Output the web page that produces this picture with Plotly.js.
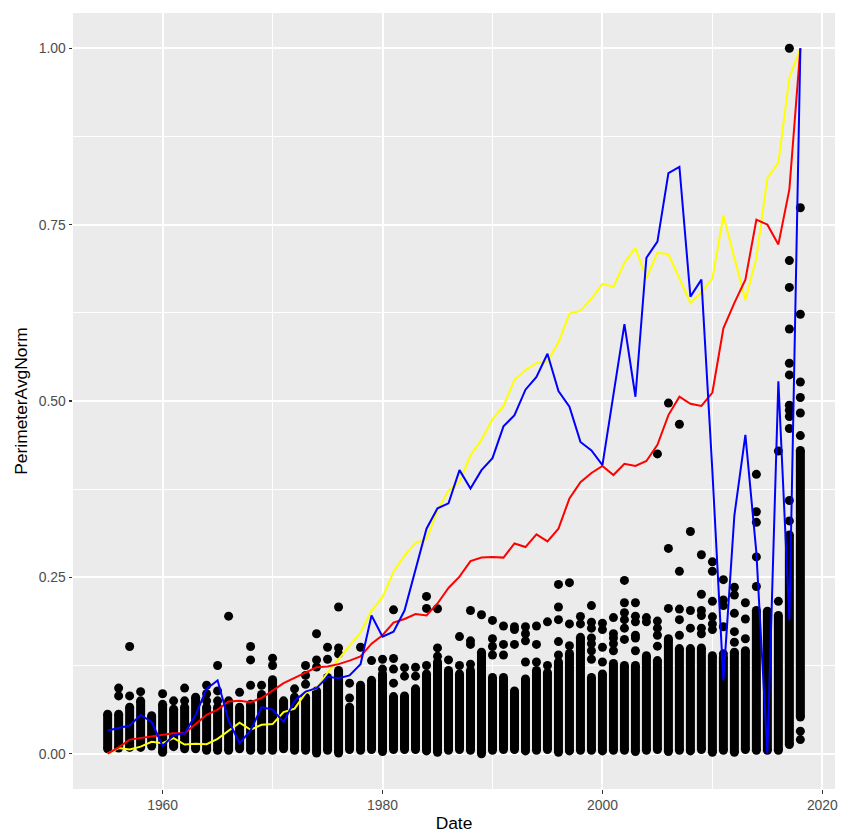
<!DOCTYPE html>
<html>
<head>
<meta charset="utf-8">
<script src="https://cdn.plot.ly/plotly-3.0.1.min.js"></script>
<style>html,body{margin:0;padding:0;background:#fff;}#chart{width:841px;height:834px;}</style>
</head>
<body>
<div id="chart"></div>
<script>
// ---- data ----
var years = [1955,1956,1957,1958,1959,1960,1961,1962,1963,1964,1965,1966,1967,1968,1969,1970,1971,1972,1973,1974,1975,1976,1977,1978,1979,1980,1981,1982,1983,1984,1985,1986,1987,1988,1989,1990,1991,1992,1993,1994,1995,1996,1997,1998,1999,2000,2001,2002,2003,2004,2005,2006,2007,2008,2009,2010,2011,2012,2013,2014,2015,2016,2017,2018];

var blueLine = [0.033,0.036,0.040,0.055,0.045,0.011,0.026,0.029,0.055,0.092,0.104,0.047,0.015,0.033,0.066,0.0625,0.045,0.075,0.088,0.093,0.109,0.107,0.111,0.127,0.196,0.166,0.173,0.203,0.260,0.319,0.348,0.355,0.402,0.376,0.402,0.419,0.464,0.480,0.516,0.534,0.567,0.514,0.492,0.442,0.430,0.409,0.509,0.609,0.506,0.703,0.726,0.823,0.832,0.648,0.672,0.400,0.104,0.338,0.452,0.285,0.000,0.528,0.189,1.000];

var redLine = [0.000,0.009,0.020,0.022,0.024,0.026,0.029,0.029,0.042,0.055,0.0625,0.074,0.075,0.073,0.079,0.089,0.100,0.1075,0.1155,0.1226,0.1236,0.127,0.132,0.138,0.156,0.168,0.186,0.191,0.198,0.196,0.213,0.235,0.251,0.273,0.278,0.279,0.278,0.298,0.293,0.311,0.301,0.319,0.362,0.385,0.398,0.408,0.395,0.411,0.408,0.415,0.438,0.480,0.506,0.496,0.493,0.512,0.603,0.639,0.672,0.757,0.750,0.722,0.800,1.000];

var yellowLine = [0.000,0.008,0.006,0.010,0.017,0.015,0.022,0.013,0.014,0.0135,0.021,0.032,0.044,0.034,0.041,0.042,0.059,0.064,0.086,0.093,0.115,0.134,0.153,0.172,0.203,0.222,0.258,0.281,0.299,0.304,0.345,0.373,0.385,0.423,0.445,0.474,0.493,0.530,0.544,0.554,0.556,0.583,0.624,0.628,0.645,0.666,0.662,0.696,0.717,0.674,0.710,0.708,0.674,0.639,0.654,0.674,0.763,0.705,0.643,0.703,0.816,0.838,0.958,1.000];

// dense column of points per year: lowest and highest point of the packed stack
var stackLow = [0.007,0.008,0.009,0.009,0.011,0.002,0.010,0.007,0.007,0.005,0.005,0.005,0.007,0.005,0.005,0.005,0.007,0.005,0.005,0.001,0.005,0.001,0.006,0.005,0.006,0.003,0.006,0.006,0.006,0.004,0.002,0.005,0.006,0.005,0.000,0.005,0.006,0.006,0.004,0.005,0.006,0.002,0.004,0.005,0.005,0.004,0.005,0.005,0.003,0.005,0.006,0.003,0.005,0.004,0.006,0.002,0.005,0.002,0.006,0.005,0.005,0.005,0.013,0.052];
var stackHigh = [0.056,0.056,0.066,0.075,0.054,0.070,0.063,0.066,0.080,0.066,0.066,0.075,0.066,0.070,0.084,0.105,0.075,0.080,0.080,0.089,0.108,0.118,0.066,0.097,0.104,0.113,0.081,0.082,0.092,0.113,0.130,0.118,0.113,0.118,0.144,0.108,0.108,0.089,0.106,0.118,0.115,0.130,0.142,0.165,0.108,0.113,0.128,0.125,0.125,0.139,0.132,0.163,0.149,0.149,0.150,0.139,0.137,0.144,0.146,0.203,0.202,0.196,0.310,0.430];

// separate points above the stacks
var outlierYear = [1956,1956,1957,1957,1958,1960,1961,1962,1962,1964,1964,1964,1965,1965,1965,1966,1967,1968,1968,1968,1969,1970,1970,1972,1973,1973,1973,1974,1974,1974,1975,1975,1976,1976,1976,1977,1977,1978,1979,1980,1980,1981,1981,1981,1981,1982,1982,1983,1983,1984,1984,1984,1985,1985,1985,1986,1987,1987,1988,1988,1988,1988,1989,1990,1990,1990,1990,1991,1991,1991,1992,1992,1992,1993,1993,1993,1993,1994,1994,1994,1995,1995,1996,1996,1996,1996,1996,1997,1997,1997,1998,1998,1999,1999,1999,1999,1999,1999,1999,2000,2000,2000,2000,2001,2001,2001,2001,2001,2002,2002,2002,2002,2002,2002,2003,2003,2003,2003,2003,2003,2004,2004,2005,2005,2005,2005,2005,2006,2006,2006,2007,2007,2007,2007,2007,2008,2008,2008,2009,2009,2009,2009,2009,2009,2010,2010,2010,2010,2010,2010,2011,2011,2011,2011,2011,2012,2012,2012,2012,2012,2013,2013,2013,2014,2014,2014,2014,2014,2016,2016,2017,2017,2017,2017,2017,2017,2017,2017,2017,2017,2017,2017,2018,2018,2018,2018,2018,2018,2018,2018];
var outlierValue = [0.093,0.082,0.152,0.082,0.088,0.085,0.075,0.093,0.075,0.097,0.085,0.075,0.125,0.089,0.075,0.195,0.087,0.152,0.133,0.097,0.097,0.1355,0.125,0.092,0.125,0.111,0.0985,0.170,0.133,0.123,0.151,0.134,0.208,0.150,0.1415,0.100,0.079,0.151,0.132,0.134,0.120,0.204,0.135,0.120,0.100,0.122,0.110,0.1226,0.110,0.223,0.206,0.125,0.2055,0.150,0.138,0.133,0.166,0.125,0.203,0.160,0.155,0.127,0.197,0.189,0.163,0.152,0.140,0.181,0.155,0.140,0.180,0.176,0.155,0.180,0.170,0.160,0.130,0.181,0.155,0.130,0.187,0.125,0.240,0.208,0.190,0.159,0.140,0.2425,0.184,0.153,0.1946,0.184,0.210,0.1865,0.178,0.164,0.156,0.146,0.134,0.185,0.176,0.151,0.130,0.193,0.170,0.164,0.156,0.146,0.2457,0.214,0.200,0.190,0.178,0.162,0.214,0.195,0.187,0.168,0.164,0.146,0.193,0.187,0.425,0.188,0.178,0.168,0.1525,0.497,0.291,0.206,0.467,0.2585,0.205,0.190,0.168,0.315,0.203,0.178,0.282,0.226,0.203,0.196,0.178,0.170,0.272,0.2585,0.216,0.194,0.184,0.176,0.2467,0.218,0.210,0.180,0.1416,0.236,0.225,0.199,0.173,0.158,0.214,0.191,0.163,0.396,0.343,0.328,0.279,0.237,0.429,0.216,1.000,0.699,0.661,0.602,0.5535,0.537,0.494,0.487,0.478,0.461,0.359,0.330,0.774,0.623,0.527,0.505,0.483,0.451,0.032,0.020];

var xTickVals = [1960,1980,2000,2020];
var yTickVals = [0,0.25,0.5,0.75,1];
var yTickText = ['0.00','0.25','0.50','0.75','1.00'];

// ---- build traces ----
var stackX = [], stackY = [];
for (var i = 0; i < years.length; i++) {
  stackX.push(years[i], years[i], null);
  stackY.push(stackLow[i], stackHigh[i], null);
}
var dotSize = 9;
var traces = [
  {x: stackX, y: stackY, mode: 'lines', line: {color: '#000000', width: dotSize}, hoverinfo: 'skip', showlegend: false},
  {x: years, y: stackLow, mode: 'markers', marker: {color: '#000000', size: dotSize}, showlegend: false},
  {x: years, y: stackHigh, mode: 'markers', marker: {color: '#000000', size: dotSize}, showlegend: false},
  {x: outlierYear, y: outlierValue, mode: 'markers', marker: {color: '#000000', size: dotSize}, showlegend: false},
  {x: years, y: yellowLine, mode: 'lines', line: {color: '#FFFF00', width: 2}, showlegend: false},
  {x: years, y: redLine, mode: 'lines', line: {color: '#FF0000', width: 2}, showlegend: false},
  {x: years, y: blueLine, mode: 'lines', line: {color: '#0000FF', width: 2}, showlegend: false}
];

var tickFont = {family: 'Liberation Sans, Arial, sans-serif', size: 13.9, color: '#4D4D4D'};
var titleFont = {family: 'Liberation Sans, Arial, sans-serif', size: 17.4, color: '#000000'};

var layout = {
  width: 841, height: 834,
  margin: {l: 73, r: 6, t: 13, b: 45, pad: 0},
  paper_bgcolor: '#FFFFFF',
  plot_bgcolor: '#EBEBEB',
  showlegend: false,
  xaxis: {
    range: [1951.85, 2021.15],
    tickvals: xTickVals,
    ticktext: xTickVals.map(String),
    ticks: 'outside', ticklen: 3.5, tickwidth: 1.1, tickcolor: '#333333',
    tickfont: tickFont,
    showgrid: true, gridcolor: '#FFFFFF', gridwidth: 2,
    minor: {dtick: 10, tick0: 1950, showgrid: true, gridcolor: '#FFFFFF', gridwidth: 1, ticks: ''},
    zeroline: false, showline: false,
    title: {text: 'Date', font: titleFont, standoff: 4},
    automargin: false
  },
  yaxis: {
    range: [-0.05, 1.05],
    tickvals: yTickVals,
    ticktext: yTickText,
    ticks: 'outside', ticklen: 3.5, tickwidth: 1.1, tickcolor: '#333333',
    tickfont: tickFont,
    showgrid: true, gridcolor: '#FFFFFF', gridwidth: 2,
    minor: {dtick: 0.125, tick0: 0, showgrid: true, gridcolor: '#FFFFFF', gridwidth: 1, ticks: ''},
    zeroline: false, showline: false,
    title: {text: 'PerimeterAvgNorm', font: titleFont, standoff: 6},
    automargin: false
  }
};

Plotly.newPlot('chart', traces, layout, {displayModeBar: false, staticPlot: true});
</script>
</body>
</html>
